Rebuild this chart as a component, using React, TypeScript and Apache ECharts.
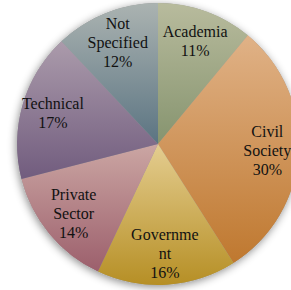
import React, { useEffect, useRef } from "react";
import * as echarts from "echarts";

const categories = ["Academia", "Civil Society", "Government", "Private Sector", "Technical", "Not Specified"];
const labelTexts = ["Academia", "Civil\nSociety", "Governme\nnt", "Private\nSector", "Technical", "Not\nSpecified"];
const values = [11, 30, 16, 14, 17, 12];
const topColors = ["#b8bb9d", "#e0b287", "#e4cd90", "#cba6a3", "#ab9bab", "#abb3b1"];
const bottomColors = ["#86946f", "#bf782f", "#b68f25", "#9c5f6c", "#715c7e", "#5b7482"];

const FONT = "'Liberation Serif', serif";

export default function App() {
  const ref = useRef<HTMLDivElement>(null);
  useEffect(() => {
    if (!ref.current) return;
    const chart = echarts.init(ref.current, null, { renderer: "svg" });
    const center = [158, 144];
    const R = 141;
    chart.setOption({
      animation: false,
      textStyle: { fontFamily: FONT },
      series: [
        {
          type: "pie",
          silent: true,
          center,
          radius: [0, R],
          z: 1,
          label: { show: false },
          labelLine: { show: false },
          itemStyle: {
            color: "#999",
            shadowBlur: 8,
            shadowOffsetX: -1,
            shadowOffsetY: 2,
            shadowColor: "rgba(0,0,0,0.45)",
          },
          data: [{ value: 1, name: "bg" }],
        },
        {
          type: "pie",
          silent: true,
          center,
          radius: [0, R],
          startAngle: 90,
          clockwise: true,
          z: 2,
          label: { show: false },
          labelLine: { show: false },
          data: categories.map((name, i) => ({
            name,
            value: values[i],
            itemStyle: {
              color: new echarts.graphic.LinearGradient(0, 0, 0, 1, [
                { offset: 0, color: topColors[i] },
                { offset: 1, color: bottomColors[i] },
              ]),
            },
          })),
        },
        {
          type: "pie",
          silent: true,
          center,
          radius: [72, R],
          startAngle: 90,
          clockwise: true,
          z: 3,
          percentPrecision: 0,
          itemStyle: { color: "rgba(0,0,0,0)" },
          label: {
            show: true,
            position: "inside",
            color: "#111",
            fontFamily: FONT,
            fontSize: 16,
            lineHeight: 19,
            formatter: (p: any) => labelTexts[p.dataIndex] + "\n" + Math.round(p.percent) + "%",
          },
          labelLine: { show: false },
          data: categories.map((name, i) => ({ name, value: values[i] })),
        },
      ],
    });
    return () => chart.dispose();
  }, []);
  return <div ref={ref} style={{ position: "absolute", left: 0, top: 0, width: 291, height: 290 }} />;
}
